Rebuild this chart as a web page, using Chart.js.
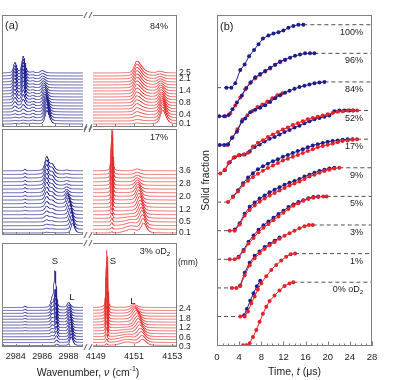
<!DOCTYPE html>
<html><head><meta charset="utf-8">
<script src="https://cdn.jsdelivr.net/npm/chart.js@4.4.0/dist/chart.umd.min.js"></script>
<style>
html,body{margin:0;padding:0;background:#fff;}
#wrap{position:relative;width:397px;height:380px;overflow:hidden;background:#fff;}
#wrap canvas{position:absolute;left:0;top:0;}
</style></head><body><div id="wrap"></div>
<script>
// ================= DATA =================
// ---- Panel (a): waterfall spectra, peak parameters ----
// Wavenumber windows (cm^-1)
const leftWindow = [2982.95, 2989.1];
const rightWindow = [4148.85, 4153.25];
const leftTickLabels = [2984, 2986, 2988];
const rightTickLabels = [4149, 4151, 4153];

// Row 1: 84% oD2 (18 traces)
const r1Count = 18;
const r1TraceLabels = ['0.1','0.4','0.8','1.4','2.1','2.5'];
const r1TraceLabelPos = [0, 3, 7, 11, 15, 17];
const r1BlueSolidAHeights = [0.2,0.2,0.3,0.4,0.6,1.0,1.4,1.8,2.2,2.5,2.8,3.0,3.2,3.3,3.4,3.4,3.4,3.4];
const r1BlueSolidBHeights = [0.3,0.3,0.4,0.6,1.0,1.5,2.2,2.8,3.4,3.9,4.3,4.7,5.0,5.2,5.4,5.5,5.5,5.5];
const r1BlueLiquidHeights = [4.5,4.6,4.6,4.5,4.2,3.8,3.4,3.0,2.7,2.5,2.3,2.0,1.7,1.4,1.2,1.0,0.9,0.8];
const r1BlueLiquidCenters = [2986.36,2986.35,2986.33,2986.31,2986.29,2986.27,2986.25,2986.22,2986.2,2986.18,2986.15,2986.13,2986.1,2986.08,2986.06,2986.04,2986.02,2986.0];
const r1BlueMinorHeights = [0.2,0.3,0.4,0.5,0.6,0.6,0.6,0.5,0.5,0.4,0.4,0.3,0.3,0.3,0.3,0.3,0.3,0.3];
const r1RedSolidHeights = [0.3,0.5,0.8,1.1,1.4,1.8,2.1,2.4,2.7,3.0,3.2,3.4,3.6,3.7,3.8,3.9,4.0,4.0];
const r1RedLiquidHeights = [4.6,4.6,4.5,4.3,4.0,3.6,3.2,2.9,2.6,2.4,2.2,1.9,1.6,1.3,1.0,0.8,0.6,0.5];
const r1RedLiquidCenters = [4152.5,4152.5,4152.49,4152.48,4152.47,4152.46,4152.45,4152.44,4152.43,4152.42,4152.41,4152.4,4152.39,4152.38,4152.37,4152.36,4152.35,4152.35];

// Row 2: 17% oD2 (18 traces)
const r2Count = 18;
const r2TraceLabels = ['0.1','0.5','1.2','2.0','2.8','3.6'];
const r2TraceLabelPos = [0, 3, 6.5, 10, 13.5, 17];
const r2BlueSolidHeights = [0.2,0.3,0.4,0.6,0.8,1.0,1.3,1.6,1.9,2.2,2.5,2.8,3.0,3.2,3.4,3.6,3.8,3.8];
const r2BlueShoulderHeights = [0.1,0.1,0.2,0.3,0.4,0.5,0.6,0.7,0.9,1.0,1.1,1.2,1.3,1.4,1.5,1.6,1.7,1.7];
const r2BlueLiquidHeights = [2.7,2.8,2.8,2.8,2.8,2.7,2.7,2.6,2.3,1.8,1.3,0.9,0.6,0.4,0.3,0.25,0.2,0.2];
const r2BlueLiquidCenters = [2988.3,2988.26,2988.22,2988.18,2988.13,2988.08,2988.03,2987.98,2987.93,2987.9,2987.87,2987.85,2987.85,2987.85,2987.85,2987.85,2987.85,2987.85];
const r2BlueMinorHeights = [0,0,0,0,0.1,0.1,0.2,0.2,0.3,0.3,0.3,0.4,0.4,0.4,0.4,0.4,0.4,0.4];
const r2RedSolidHeights = [0.3,0.5,0.8,1.1,1.5,2.0,2.5,3.1,3.8,4.6,5.4,6.3,7.2,8.1,9.0,9.9,10.8,11.6];
const r2RedLiquidHeights = [2.6,2.8,2.9,3.0,3.0,3.0,3.0,3.0,2.9,2.8,2.6,2.3,1.9,1.5,1.1,0.8,0.6,0.5];
const r2RedLiquidCenters = [4151.5,4151.47,4151.44,4151.41,4151.38,4151.35,4151.32,4151.29,4151.26,4151.24,4151.22,4151.2,4151.18,4151.17,4151.16,4151.16,4151.16,4151.16];
const r2RedShoulderHeights = [1.0,0.9,0.8,0.6,0.4,0.2,0.1,0,0,0,0,0,0,0,0,0,0,0];

// Row 3: 3% oD2 (14 traces)
const r3Count = 14;
const r3TraceLabels = ['0.3','0.6','1.2','1.8','2.4'];
const r3TraceLabelPos = [-0.3, 2.7, 6, 9.1, 12.5];
const r3BlueSolidHeights = [0.5,0.9,1.4,2.0,2.6,3.3,4.0,4.5,5.0,5.5,6.0,6.5,7.0,12.3];
const r3BlueSolidCenters = [2987.1,2987.1,2987.09,2987.08,2987.07,2987.06,2987.05,2987.04,2987.03,2987.02,2987.01,2987.0,2986.99,2986.97];
const r3BlueShoulderHeights = [0,0,0.2,0.4,0.6,0.8,1.0,1.2,1.5,1.8,2.0,2.2,2.5,3.0];
const r3BlueLiquidHeights = [3.0,3.1,3.2,3.2,3.2,3.1,3.0,2.9,2.7,2.5,2.3,2.1,1.9,1.7];
const r3BlueLiquidCenters = [2988.2,2988.19,2988.18,2988.17,2988.15,2988.13,2988.11,2988.09,2988.07,2988.05,2988.04,2988.03,2988.02,2988.0];
const r3BlueMinorHeights = [0,0,0,0,0,0.1,0.1,0.2,0.2,0.3,0.3,0.4,0.4,0.5];
const r3RedSolidHeights = [0.6,1.2,2.0,3.2,4.5,6.0,7.5,9.0,10.5,12.0,13.5,15.5,17.0,19.6];
const r3RedLiquidHeights = [2.0,2.3,2.6,2.8,3.0,3.1,3.2,3.2,3.2,3.0,2.6,2.0,1.5,1.0];
const r3RedLiquidCenters = [4151.45,4151.42,4151.38,4151.34,4151.3,4151.26,4151.22,4151.18,4151.14,4151.1,4151.06,4151.02,4151.0,4150.98];
const r3RedShoulderHeights = [1.2,1.1,1.0,0.8,0.6,0.4,0.2,0,0,0,0,0,0,0];

// ---- Panel (b): solid fraction vs time (t in microseconds, fraction 0..1) ----
const timeTicks = [0,4,8,12,16,20,24,28];
const bLevelNames = ['0% oD₂','1%','3%','5%','9%','17%','52%','84%','96%','100%'];
const b100BlueT = [1.7,2.6,3.3,4.2,5.0,5.8,6.7,7.5,8.3,9.3,10.2,11.1,12.0,12.9,13.8,14.7,15.6];
const b100BlueF = [0,0,0.07,0.28,0.37,0.5,0.6,0.69,0.78,0.83,0.86,0.88,0.91,0.95,0.98,1.0,1.0];
const b96BlueT = [0.4,1.3,2.1,2.8,3.6,4.5,5.3,6.1,6.9,7.8,8.7,9.6,10.5,11.4,12.3,13.2,14.1,15.0,15.9,16.8,17.6];
const b96BlueF = [0,0,0.02,0.11,0.22,0.33,0.45,0.54,0.62,0.67,0.72,0.77,0.82,0.87,0.9,0.93,0.96,0.98,1.0,1.0,1.0];
const b96RedT = [1.5,2.4,3.3,4.2,5.1,6.0,6.9,7.8,8.7,9.6,10.5,11.4,12.3];
const b96RedF = [0,0.05,0.17,0.3,0.43,0.53,0.6,0.66,0.71,0.76,0.82,0.86,0.9];
const b84BlueT = [0.5,1.3,2.0,2.7,3.6,4.5,5.1,6.0,6.9,7.8,8.7,9.6,10.5,11.4,12.3,13.1,14.0,14.9,15.8,16.7,17.6,18.5,19.4];
const b84BlueF = [0,0,0.01,0.11,0.21,0.37,0.42,0.52,0.56,0.59,0.63,0.68,0.74,0.79,0.83,0.86,0.89,0.92,0.94,0.96,0.98,0.99,1.0];
const b84RedT = [1.9,2.8,3.7,4.6,5.5,6.4,7.3,8.2,9.1,10.0,10.9,11.8];
const b84RedF = [0,0.12,0.25,0.4,0.47,0.54,0.6,0.64,0.69,0.74,0.79,0.82];
const b52BlueT = [1.4,2.3,3.2,4.1,5.0,5.9,6.8,7.7,8.6,9.5,10.4,11.3,12.2,13.1,14.0,14.9,15.8,16.7,17.6,18.5,19.4,20.3,21.2,22.1,23.0,23.9,24.6];
const b52BlueF = [0.05,0.18,0.26,0.29,0.3,0.35,0.42,0.46,0.51,0.55,0.58,0.62,0.66,0.69,0.73,0.76,0.8,0.83,0.86,0.88,0.9,0.92,0.99,1.0,1.0,1.0,1.0];
const b52RedT = [0.6,1.4,2.1,3.0,3.9,4.8,5.6,6.5,7.4,8.3,9.2,10.1,11.0,11.9,12.8,13.7,14.6,15.5,16.4,17.3,18.2,19.1,20.0,20.9,21.8,22.7,23.6,24.5,25.3];
const b52RedF = [0,0.06,0.17,0.25,0.29,0.3,0.33,0.43,0.49,0.53,0.58,0.62,0.66,0.7,0.73,0.77,0.8,0.83,0.86,0.88,0.9,0.92,0.94,0.96,0.98,0.99,1.0,1.0,1.0];
const b17BlueT = [2.9,3.8,4.7,5.6,6.5,7.4,8.3,9.2,10.1,11.0,11.9,12.8,13.7,14.6,15.5,16.4,17.3,18.2,19.1,20.0,20.9,21.8,22.7,23.6,24.5];
const b17BlueF = [0.09,0.19,0.3,0.39,0.46,0.52,0.57,0.61,0.65,0.68,0.72,0.75,0.78,0.81,0.84,0.87,0.9,0.92,0.94,0.96,0.97,0.98,0.99,1.0,1.0];
const b17RedT = [2.0,2.9,3.8,4.7,5.6,6.5,7.4,8.3,9.2,10.1,11.0,11.9,12.8,13.7,14.6,15.5,16.4,17.3,18.2,19.1,20.0,20.9,21.8,22.7,23.6,24.5,25.3];
const b17RedF = [0,0.08,0.17,0.27,0.34,0.4,0.45,0.5,0.54,0.58,0.62,0.66,0.69,0.72,0.75,0.78,0.81,0.84,0.87,0.89,0.91,0.93,0.95,0.97,0.98,0.99,1.0];
const b9BlueT = [3.2,4.1,5.0,5.9,6.8,7.7,8.6,9.5,10.4,11.3,12.2,13.1,14.0,14.9,15.8,16.7,17.6,18.5,19.4,20.3,21.2];
const b9BlueF = [0.02,0.12,0.27,0.38,0.45,0.51,0.56,0.61,0.65,0.69,0.73,0.76,0.79,0.82,0.86,0.89,0.92,0.95,0.97,0.99,1.0];
const b9RedT = [2.3,3.2,4.1,5.0,5.9,6.8,7.7,8.6,9.5,10.4,11.3,12.2,13.1,14.0,14.9,15.8,16.7,17.6,18.5,19.4,20.3,21.2,22.1];
const b9RedF = [0,0,0.1,0.24,0.33,0.4,0.46,0.51,0.56,0.6,0.64,0.68,0.72,0.75,0.78,0.82,0.86,0.89,0.92,0.95,0.97,0.99,1.0];
const b5BlueT = [3.9,4.8,5.7,6.6,7.5,8.4,9.3,10.2,11.1,12.0,12.9,13.8,14.7,15.6,16.5,17.4,18.3];
const b5BlueF = [0.04,0.15,0.28,0.38,0.47,0.54,0.6,0.66,0.72,0.77,0.83,0.87,0.91,0.94,0.97,0.99,1.0];
const b5RedT = [2.3,3.2,3.9,4.8,5.7,6.6,7.5,8.4,9.3,10.2,11.1,12.0,12.9,13.8,14.7,15.6,16.5,17.4,18.3,19.2,19.8];
const b5RedF = [0,0,0.03,0.13,0.25,0.34,0.43,0.5,0.56,0.62,0.68,0.74,0.8,0.85,0.89,0.93,0.96,0.98,0.99,1.0,1.0];
const b3BlueT = [4.2,5.0,5.9,6.8,7.7,8.6,9.5,10.4,11.3];
const b3BlueF = [0.04,0.24,0.4,0.51,0.58,0.65,0.7,0.75,0.8];
const b3RedT = [2.7,3.5,4.2,5.0,5.9,6.8,7.7,8.6,9.5,10.4,11.3,12.2,13.1,14.0,14.9,15.8,16.6,17.3];
const b3RedF = [0,0,0.03,0.2,0.36,0.47,0.55,0.62,0.68,0.73,0.78,0.83,0.87,0.91,0.95,0.98,1.0,1.0];
const b1BlueT = [4.9,5.4,6.0,6.6,7.2,7.8];
const b1BlueF = [0.02,0.12,0.25,0.37,0.48,0.57];
const b1RedT = [4.2,5.0,5.6,6.2,6.8,7.4,8.0,8.9,9.8,10.7,11.6,12.5,13.3,14.1];
const b1RedF = [0,0,0.08,0.21,0.32,0.43,0.53,0.64,0.74,0.82,0.89,0.95,0.99,1.0];
const b0RedT = [4.7,5.3,5.9,6.5,7.1,7.7,8.3,8.9,9.5,10.4,11.3,12.2,13.1,13.8];
const b0RedF = [0,0,0.03,0.13,0.24,0.37,0.5,0.61,0.7,0.79,0.87,0.94,0.98,1.0];

// ================= RENDERING =================
const W = 397, H = 380;
const FONT = '"Liberation Sans", Arial, Helvetica, sans-serif';
const BLUE = '#1e1e8c', RED = '#e2232a';
const SPEC_BLUE = 'rgba(32,32,140,0.85)', SPEC_RED = 'rgba(228,45,45,0.8)';
const FRAME = '#808080', TEXT = '#222';
const wrap = document.getElementById('wrap');

function newCanvas(){
  const c = document.createElement('canvas');
  c.width = W; c.height = H; c.style.width = W+'px'; c.style.height = H+'px';
  wrap.appendChild(c); return c;
}
function drawRich(ctx, segs, x, y, size, align, color){
  ctx.save(); ctx.fillStyle = color || TEXT; ctx.textBaseline = 'middle'; ctx.textAlign = 'left';
  const fontOf = s => (s.it ? 'italic ' : '') + ((s.sup || s.sub) ? Math.round(size*0.68) : size) + 'px ' + FONT;
  let total = 0;
  for (const s of segs){ ctx.font = fontOf(s); total += ctx.measureText(s.t).width; }
  let cx = align === 'center' ? x - total/2 : align === 'right' ? x - total : x;
  for (const s of segs){
    ctx.font = fontOf(s);
    const dy = s.sup ? -size*0.38 : s.sub ? size*0.3 : 0;
    ctx.fillText(s.t, cx, y + dy); cx += ctx.measureText(s.t).width;
  }
  ctx.restore();
}
function segsOf(str){ // render "₂" as subscript 2
  const parts = str.split('₂'); const out = [];
  parts.forEach((p,i)=>{ if (p) out.push({t:p}); if (i < parts.length-1) out.push({t:'2', sub:true}); });
  return out;
}
function line(ctx, x1, y1, x2, y2, color, w){
  ctx.save(); ctx.strokeStyle = color; ctx.lineWidth = w || 1;
  ctx.beginPath(); ctx.moveTo(x1, y1); ctx.lineTo(x2, y2); ctx.stroke(); ctx.restore();
}

// peak profile (pseudo-Voigt, possibly asymmetric)
function pv(x, c, wl, wr, h){
  const w = x < c ? wl : wr; const d = (x - c)/w;
  return h*(0.4/(1 + d*d) + 0.6*Math.exp(-0.6931*d*d));
}
function buildTraces(range, count, comps){
  const n = 500, step = (range[1]-range[0])/n, out = [];
  for (let i = 0; i < count; i++){
    const pts = [];
    for (let k = 0; k <= n; k++){
      const x = range[0] + k*step; let y = i;
      for (const c of comps){
        const ctr = Array.isArray(c.center) ? c.center[i] : c.center;
        const h = c.heights[i]; if (h) y += pv(x, ctr, c.wl, c.wr, h);
      }
      pts.push({x, y});
    }
    out.push(pts);
  }
  return out;
}

function baseOptions(box, xr, yr){
  return {
    responsive:false, animation:false, devicePixelRatio:1, events:[], parsing:false, normalized:true,
    layout:{padding:{left:box.l, top:box.t, right:W-box.r, bottom:H-box.b}},
    plugins:{legend:{display:false}, tooltip:{enabled:false}},
    scales:{ x:{type:'linear', display:false, min:xr[0], max:xr[1]},
             y:{type:'linear', display:false, min:yr[0], max:yr[1]} }
  };
}

// ---- panel (a) geometry (pixels) ----
const rows = [
  {t:15,  b:127, base0:124,   sp:3.0},
  {t:129, b:235, base0:233,   sp:3.66},
  {t:243, b:347, base0:345.5, sp:2.92}
];
const LEFT_BOX = {l:2, r:83}, RIGHT_BOX = {l:93, r:177};

function spectraPanel(rowIdx, side, count, comps, color, extra){
  const row = rows[rowIdx];
  const box = side === 'L' ? {l:LEFT_BOX.l, r:LEFT_BOX.r, t:row.t, b:row.b} : {l:RIGHT_BOX.l, r:RIGHT_BOX.r, t:row.t, b:row.b};
  const ymin = -(row.b - row.base0)/row.sp, ymax = ymin + (row.b - row.t)/row.sp;
  const xr = side === 'L' ? leftWindow : rightWindow;
  const traces = buildTraces(xr, count, comps);
  const datasets = traces.map((pts,i)=>({data:pts, borderColor:color, borderWidth:0.85, pointRadius:0, fill:false, tension:0, order:-i}));
  new Chart(newCanvas(), {type:'line', data:{datasets}, options:baseOptions(box, xr, [ymin, ymax]),
    plugins:[{id:'deco'+rowIdx+side, afterDraw(chart){
      const ctx = chart.ctx, a = chart.chartArea, xs = chart.scales.x, ys = chart.scales.y;
      // frame
      const L = a.left + 0.5, R = a.right - 0.5, T = a.top + 0.5, B = a.bottom - 0.5;
      line(ctx, a.left, T, a.right, T, FRAME); line(ctx, a.left, B, a.right, B, FRAME);
      if (side === 'L') line(ctx, L, a.top, L, a.bottom, FRAME); else line(ctx, R, a.top, R, a.bottom, FRAME);
      // ticks (inside, every 1 cm^-1)
      for (let v = Math.ceil(xr[0]); v <= xr[1]; v++){
        const px = Math.round(xs.getPixelForValue(v)) + 0.5;
        line(ctx, px, a.bottom, px, a.bottom - 3, FRAME);
      }
      if (side === 'L'){ // axis break marks
        for (const yy of [a.top, a.bottom]){
          line(ctx, a.right + 1, yy + 3, a.right + 4, yy - 3, '#555');
          line(ctx, a.right + 6, yy + 3, a.right + 9, yy - 3, '#555');
        }
      }
      if (rowIdx === 2){
        const lab = side === 'L' ? leftTickLabels : rightTickLabels;
        lab.forEach(v => drawRich(ctx, [{t:String(v)}], xs.getPixelForValue(v), 357, 9, 'center'));
      }
      if (extra) extra(ctx, xs, ys, a);
    }}]
  });
}

function traceLabels(labels, pos){
  return (ctx, xs, ys, a) => labels.forEach((s,i)=> drawRich(ctx, [{t:s}], a.right + 2, ys.getPixelForValue(pos[i]), 8.5, 'left'));
}

// Row 1 (84%)
spectraPanel(0, 'L', r1Count, [
  {center:2983.93, wl:0.13, wr:0.15, heights:r1BlueSolidAHeights},
  {center:2984.56, wl:0.13, wr:0.16, heights:r1BlueSolidBHeights},
  {center:2985.3, wl:0.14, wr:0.14, heights:r1BlueMinorHeights},
  {center:r1BlueLiquidCenters, wl:0.16, wr:0.22, heights:r1BlueLiquidHeights}
], SPEC_BLUE, (ctx)=>{ drawRich(ctx, [{t:'(a)'}], 5, 26, 11, 'left'); });
spectraPanel(0, 'R', r1Count, [
  {center:4151.14, wl:0.15, wr:0.3, heights:r1RedSolidHeights},
  {center:r1RedLiquidCenters, wl:0.15, wr:0.2, heights:r1RedLiquidHeights}
], SPEC_RED, (ctx, xs, ys, a)=>{ traceLabels(r1TraceLabels, r1TraceLabelPos)(ctx, xs, ys, a); drawRich(ctx, [{t:'84%'}], 168, 27, 9, 'right'); });

// Row 2 (17%)
spectraPanel(1, 'L', r2Count, [
  {center:2984.7, wl:0.08, wr:0.08, heights:r2BlueMinorHeights},
  {center:2986.34, wl:0.16, wr:0.18, heights:r2BlueSolidHeights},
  {center:2986.75, wl:0.18, wr:0.2, heights:r2BlueShoulderHeights},
  {center:r2BlueLiquidCenters, wl:0.13, wr:0.18, heights:r2BlueLiquidHeights}
], SPEC_BLUE);
spectraPanel(1, 'R', r2Count, [
  {center:4149.84, wl:0.05, wr:0.05, heights:r2RedSolidHeights},
  {center:4150.85, wl:0.35, wr:0.35, heights:r2RedShoulderHeights},
  {center:r2RedLiquidCenters, wl:0.15, wr:0.18, heights:r2RedLiquidHeights}
], SPEC_RED, (ctx, xs, ys, a)=>{ traceLabels(r2TraceLabels, r2TraceLabelPos)(ctx, xs, ys, a); drawRich(ctx, [{t:'17%'}], 168, 138, 9, 'right'); });

// Row 3 (3% oD2)
spectraPanel(2, 'L', r3Count, [
  {center:2984.7, wl:0.08, wr:0.08, heights:r3BlueMinorHeights},
  {center:r3BlueSolidCenters, wl:0.09, wr:0.1, heights:r3BlueSolidHeights},
  {center:2986.75, wl:0.11, wr:0.11, heights:r3BlueShoulderHeights},
  {center:r3BlueLiquidCenters, wl:0.12, wr:0.16, heights:r3BlueLiquidHeights}
], SPEC_BLUE, (ctx)=>{
  drawRich(ctx, [{t:'S'}], 55, 261, 9.5, 'center'); drawRich(ctx, [{t:'L'}], 72, 297, 9.5, 'center');
  drawRich(ctx, [{t:'Wavenumber, '},{t:'ν', it:true},{t:' (cm'},{t:'-1', sup:true},{t:')'}], 88, 373, 10.5, 'center');
});
spectraPanel(2, 'R', r3Count, [
  {center:4149.57, wl:0.05, wr:0.05, heights:r3RedSolidHeights},
  {center:4150.65, wl:0.4, wr:0.4, heights:r3RedShoulderHeights},
  {center:r3RedLiquidCenters, wl:0.2, wr:0.22, heights:r3RedLiquidHeights}
], SPEC_RED, (ctx, xs, ys, a)=>{
  traceLabels(r3TraceLabels, r3TraceLabelPos)(ctx, xs, ys, a);
  drawRich(ctx, [{t:'(mm)'}], a.right + 1, 263, 8.5, 'left');
  drawRich(ctx, segsOf('3% oD₂'), 170, 252, 9, 'right');
  drawRich(ctx, [{t:'S'}], 113, 261, 9.5, 'center'); drawRich(ctx, [{t:'L'}], 133, 301, 9.5, 'center');
});

// ---- panel (b) ----
const AMP = 2.2;
const bCurves = [
  {blue:null, red:[b0RedT,b0RedF], blueTop:false},
  {blue:[b1BlueT,b1BlueF], red:[b1RedT,b1RedF], blueTop:false},
  {blue:[b3BlueT,b3BlueF], red:[b3RedT,b3RedF], blueTop:false},
  {blue:[b5BlueT,b5BlueF], red:[b5RedT,b5RedF], blueTop:false},
  {blue:[b9BlueT,b9BlueF], red:[b9RedT,b9RedF], blueTop:false},
  {blue:[b17BlueT,b17BlueF], red:[b17RedT,b17RedF], blueTop:false},
  {blue:[b52BlueT,b52BlueF], red:[b52RedT,b52RedF], blueTop:false},
  {blue:[b84BlueT,b84BlueF], red:[b84RedT,b84RedF], blueTop:true},
  {blue:[b96BlueT,b96BlueF], red:[b96RedT,b96RedF], blueTop:true},
  {blue:[b100BlueT,b100BlueF], red:null, blueTop:true}
];
(function(){
  const ds = []; let k = 0;
  const push = d => { d.order = -(k++); ds.push(d); };
  const dashed = {borderColor:'#505050', borderDash:[4,3], borderWidth:1, pointRadius:0, fill:false};
  bCurves.forEach((c,i)=>{
    const series = [];
    if (c.blue) series.push({s:c.blue, col:BLUE});
    if (c.red) series.push({s:c.red, col:RED});
    const ts = series.flatMap(s => s.s[0]);
    const t0 = Math.min(...ts), t1 = Math.max(...ts);
    if (i > 0) push(Object.assign({data:[{x:0,y:i},{x:t0,y:i}]}, dashed));
    push(Object.assign({data:[{x:t1,y:i+AMP},{x:28,y:i+AMP}]}, dashed));
    const ordered = c.blueTop ? series.slice().reverse() : series;
    ordered.forEach(s => push({
      data: s.s[0].map((t,j)=>({x:t, y:i + AMP*s.s[1][j]})),
      borderColor:s.col, backgroundColor:s.col, borderWidth:1, tension:0, fill:false,
      pointRadius:2, pointBorderWidth:0, pointBackgroundColor:s.col
    }));
  });
  const box = {l:217, r:372, t:15, b:346};
  const opts = baseOptions(box, [0, 28], [-0.03, 11.54]);
  new Chart(newCanvas(), {type:'line', data:{datasets:ds}, options:opts,
    plugins:[{id:'decoB', afterDraw(chart){
      const ctx = chart.ctx, a = chart.chartArea, xs = chart.scales.x, ys = chart.scales.y;
      ctx.save(); ctx.strokeStyle = FRAME; ctx.lineWidth = 1;
      ctx.strokeRect(a.left + 0.5, a.top + 0.5, a.right - a.left - 1, a.bottom - a.top - 1); ctx.restore();
      for (let v = 0; v <= 28; v++){
        const px = Math.round(xs.getPixelForValue(v)) + 0.5;
        line(ctx, px, a.bottom, px, a.bottom - (v % 4 === 0 ? 4.5 : 2.5), FRAME);
      }
      timeTicks.forEach(v => drawRich(ctx, [{t:String(v)}], xs.getPixelForValue(v), 357, 9.5, 'center'));
      drawRich(ctx, [{t:'Time, '},{t:'t', it:true},{t:' (μs)'}], (a.left + a.right)/2, 372, 10.5, 'center');
      ctx.save(); ctx.translate(206, (a.top + a.bottom)/2); ctx.rotate(-Math.PI/2);
      drawRich(ctx, [{t:'Solid fraction'}], 0, 0, 10.5, 'center'); ctx.restore();
      drawRich(ctx, [{t:'(b)'}], 220, 27, 11, 'left');
      bLevelNames.forEach((s,i) => drawRich(ctx, segsOf(s), 363, ys.getPixelForValue(i + AMP) + 7.5, 9, 'right'));
    }}]
  });
})();
</script></body></html>
